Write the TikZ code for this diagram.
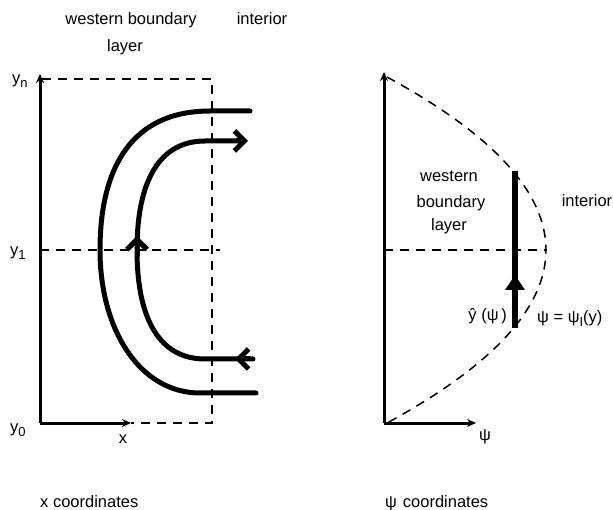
\documentclass[tikz,border=0pt]{standalone}
\usepackage{fontspec}
\setmainfont{Liberation Sans}
\usetikzlibrary{arrows.meta}
\newcommand\subs[1]{{\fontsize{13}{13}\selectfont\raisebox{-4pt}{#1}}}
\begin{document}
\begin{tikzpicture}[x=1pt,y=-1pt,
  lbl/.style={font=\fontsize{16.5}{19}\selectfont, inner sep=0pt, anchor=base},
  axis/.style={line width=3pt, -{Stealth[length=9pt,width=8pt]}},
  guide/.style={line width=1.5pt, dash pattern=on 9pt off 7pt},
  stream/.style={line width=5pt, line cap=round},
  barb/.style={line width=5pt, -{Straight Barb[length=10pt,width=20pt]}},
  bigarrow/.style={line width=6pt, -{Triangle[length=15pt,width=19pt]}}]
\useasboundingbox (0,0) rectangle (613,510);
\fill[white] (0,0) rectangle (613,510);

% ---------- left panel: x coordinates ----------
\coordinate (o1) at (40,423);
\coordinate (yn) at (40,74);
\coordinate (xa) at (131,423);
\coordinate (tl) at (42,79);
\coordinate (tr) at (212,79);
\coordinate (br) at (212,423);
\coordinate (m1) at (40,250);
\coordinate (m2) at (220,250);

\draw[guide] (tl) -- (tr) -- (br) -- (xa);
\draw[guide] (m1) -- (m2);
\draw[axis] (o1) -- (yn);
\draw[axis] (o1) -- (xa);

% outer streamline
\draw[stream] (250,111) -- (210,111) .. controls (130,111) and (100,170) .. (100,250)
  .. controls (100,330) and (140,393) .. (200,393) -- (256,393);
% inner streamline
\draw[stream] (253,359) -- (205,359) .. controls (160,359) and (137,320) .. (137,250)
  .. controls (137,180) and (160,141) .. (205,141) -- (240,141);
\draw[barb] (236,141) -- (248,141);
\draw[barb] (137,256) -- (137,236);
\draw[barb] (250,359) -- (235,359);

\node[lbl] (wb1) at (131,25) {western boundary};
\node[lbl] (wb2) at (125,52) {layer};
\node[lbl] (int1) at (262,25) {interior};
\node[lbl, anchor=base west] (lyn) at (12,84) {y\subs{n}};
\node[lbl, anchor=base west] (ly1) at (10,256) {y\subs{1}};
\node[lbl, anchor=base west] (ly0) at (10,432) {y\subs{0}};
\node[lbl] (lx) at (123,443) {x};
\node[lbl, anchor=base west] (cap1) at (40,507) {x coordinates};

% ---------- right panel: psi coordinates ----------
\coordinate (o2) at (384,423);
\coordinate (py) at (384,72);
\coordinate (px) at (476,423);
\coordinate (q1) at (384,250);
\coordinate (q2) at (547,250);

\draw[guide] (387,77) .. controls (599,192.3) and (599,307.7) .. (387,423);
\draw[guide] (q1) -- (q2);
\draw[axis] (o2) -- (py);
\draw[axis] (o2) -- (px);

\draw[line width=6pt] (515,328) -- (515,171);
\draw[bigarrow] (515,300) -- (515,275);

\node[lbl] (wr1) at (449,182) {western};
\node[lbl] (wr2) at (451,208) {boundary};
\node[lbl] (wr3) at (449,231) {layer};
\node[lbl] (int2) at (587,207) {interior};
\node[lbl, anchor=base east] (yhat) at (507,321) {ŷ (ψ\,)};
\node[lbl, anchor=base west] (psiI) at (537,323) {ψ = ψ\subs{I}(y)};
\node[lbl] (lpsi) at (485,440) {ψ};
\node[lbl, anchor=base west] (cap2) at (385,507) {ψ\hspace{6pt}coordinates};
\end{tikzpicture}
\end{document}
